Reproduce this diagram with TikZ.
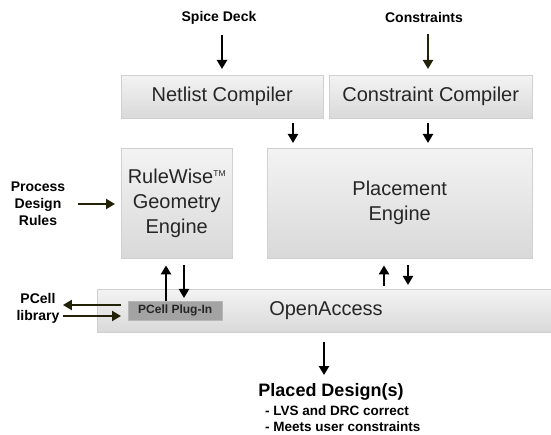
\documentclass[tikz,border=0pt]{standalone}
\usepackage{fontspec}
\setmainfont{Liberation Sans}
\usetikzlibrary{arrows.meta,positioning}

\definecolor{boxline}{RGB}{208,208,208}
\definecolor{boxtop}{RGB}{243,243,243}
\definecolor{boxbot}{RGB}{217,217,217}
\definecolor{plugfill}{RGB}{163,163,163}
\definecolor{arrolive}{RGB}{34,34,8}

\newcommand{\tmark}{\raisebox{6.5pt}{\fontsize{8.5}{9}\selectfont TM}}

\tikzset{
	box/.style={draw=boxline, top color=boxtop, bottom color=boxbot, anchor=north west, inner sep=0pt, align=center, text=black!85, font=\fontsize{20}{25}\selectfont},
	lbl/.style={align=center, font=\bfseries\fontsize{14}{17}\selectfont},
	arr/.style={line width=2.7pt, -{Triangle[length=9pt,width=10pt]}},
	oarr/.style={arr, draw=arrolive},
}

\begin{document}
\begin{tikzpicture}[x=1pt,y=-1pt]
	\useasboundingbox (0,0) rectangle (551,435);
	\node[box, minimum width=202pt, minimum height=43pt] (netlist) at (121,75) {Netlist Compiler};
	\node[box, minimum width=203pt, minimum height=43pt] (cons) at (329,75) {Constraint Compiler};
	\node[box, minimum width=111pt, minimum height=110pt] (rule) at (121,148) {RuleWise\tmark\\Geometry\\Engine};
	\node[box, minimum width=265pt, minimum height=110pt] (place) at (267,148) {Placement\\Engine};
	\node[box, minimum width=460pt, minimum height=43pt] (oa) at (97,289) {};
	\node[text=black!85, font=\fontsize{20}{24}\selectfont] (oalbl) at (326,311) {OpenAccess};
	\node[draw=boxline!70!gray, fill=plugfill, anchor=north west, inner sep=0pt, minimum width=94pt, minimum height=19pt, text=black!85, font=\bfseries\fontsize{12}{14}\selectfont] (plugin) at (128,301) {PCell Plug-In};
	\node[lbl] (spice) at (219,18) {Spice Deck};
	\node[lbl] (constr) at (424,18) {Constraints};
	\node[lbl] (rules) at (38,204) {Process\\Design\\Rules};
	\node[lbl] (pcell) at (38,308) {PCell\\library};
	\node[font=\bfseries\fontsize{18}{20}\selectfont] (placed) at (331,392) {Placed Design(s)};
	\node[anchor=west, inner sep=0pt, align=left, font=\bfseries\fontsize{13.5}{16}\selectfont] (notes) at (265,419) {- LVS and DRC correct\\- Meets user constraints};
	\draw[arr, shorten <=7pt, shorten >=6pt] (spice.south -| 222,0) -- (netlist.north -| 222,0);
	\draw[oarr, shorten <=7pt, shorten >=6pt] (constr.south -| 428,0) -- (cons.north -| 428,0);
	\draw[arr, shorten <=5pt, shorten >=5pt] (netlist.south -| 293,0) -- (place.north -| 293,0);
	\draw[arr, shorten <=5pt, shorten >=5pt] (cons.south -| 428,0) -- (place.north -| 428,0);
	\draw[oarr, shorten <=9pt, shorten >=6pt] (rules.east) -- (rule.west |- rules.east);
	\draw[arr, shorten >=7pt] (plugin.north -| 166,0) -- (rule.south -| 166,0);
	\draw[arr, shorten <=7pt, shorten >=3pt] (rule.south -| 184,0) -- (plugin.north -| 184,0);
	\draw[arr, shorten <=3pt, shorten >=7pt] (oa.north -| 384,0) -- (place.south -| 384,0);
	\draw[arr, shorten <=7pt, shorten >=4pt] (place.south -| 408,0) -- (oa.north -| 408,0);
	\draw[oarr, shorten <=7pt] (plugin.west |- 0,305) -- (pcell.east |- 0,305);
	\draw[oarr, shorten >=7pt] (pcell.east |- 0,316) -- (plugin.west |- 0,316);
	\draw[arr, shorten <=10pt, shorten >=5pt] (oa.south -| 324,0) -- (placed.north -| 324,0);
\end{tikzpicture}
\end{document}
